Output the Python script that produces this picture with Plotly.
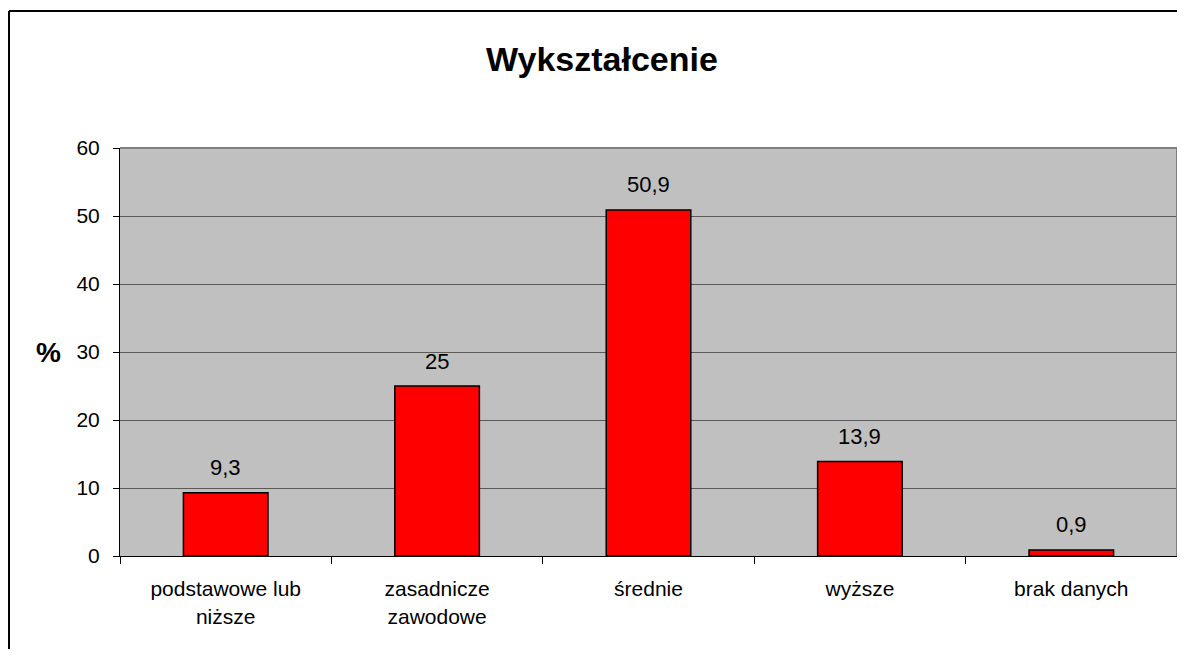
import plotly.graph_objects as go

categories = ["podstawowe lub<br>niższe", "zasadnicze<br>zawodowe", "średnie", "wyższe", "brak danych"]
values = [9.3, 25, 50.9, 13.9, 0.9]
y_ticks = [0, 10, 20, 30, 40, 50, 60]

labels = [str(v).replace(".", ",") for v in values]

W, H = 1169, 641

fig = go.Figure()
fig.add_trace(go.Bar(
    x=categories,
    y=values,
    width=0.4,
    marker=dict(color="#FF0000", line=dict(color="black", width=1.5)),
))

# value labels above the bars
for c, v, t in zip(categories, values, labels):
    fig.add_annotation(x=c, y=v, text=t, showarrow=False, yshift=25,
                       yanchor="middle", font=dict(size=22, color="black"))

# "%" axis label
fig.add_annotation(x=-0.0681, y=30, xref="paper", yref="y", text="<b>%</b>",
                   xanchor="center", showarrow=False, font=dict(size=28, color="black"))

# outer chart border: only its top and left edges fall inside the window
fig.add_shape(type="line", xref="paper", yref="paper",
              x0=-0.105, x1=1.0, y0=1.3358, y1=1.3358,
              line=dict(color="black", width=2), layer="above")
fig.add_shape(type="line", xref="paper", yref="paper",
              x0=-0.105, x1=-0.105, y0=-0.3, y1=1.3358,
              line=dict(color="black", width=2), layer="above")
# grey plot-area edge on top and right
fig.add_shape(type="line", xref="paper", yref="paper", x0=0, x1=1, y0=1, y1=1,
              line=dict(color="#808080", width=2), layer="above")
fig.add_shape(type="line", xref="paper", yref="paper", x0=1, x1=1, y0=0, y1=1,
              line=dict(color="#808080", width=2), layer="above")

fig.update_layout(
    width=W, height=H,
    margin=dict(l=112, r=0, t=140, b=93),
    paper_bgcolor="white",
    plot_bgcolor="#C0C0C0",
    font=dict(family="Liberation Sans, Arial, sans-serif", size=21, color="black"),
    title=dict(text="<b>Wykształcenie</b>", x=594 / W, xref="container",
               y=1 - 51 / H, yref="container", yanchor="middle", xanchor="center",
               font=dict(size=34, color="black")),
    showlegend=False,
    bargap=0.6,
)
fig.update_xaxes(
    showline=True, linecolor="black", linewidth=1,
    ticks="outside", tickson="boundaries", ticklen=7, tickcolor="black",
    showgrid=False, tickfont=dict(size=21), ticklabelstandoff=14,
)
fig.update_yaxes(
    range=[0, 60], tickvals=y_ticks, showline=True, linecolor="black", linewidth=1,
    ticks="outside", ticklen=6, tickcolor="black",
    showgrid=True, gridcolor="#5a5a5a", gridwidth=1, zeroline=False,
    tickfont=dict(size=21), ticklabelstandoff=9,
)

fig.write_html("out.html", config={"displayModeBar": False})
